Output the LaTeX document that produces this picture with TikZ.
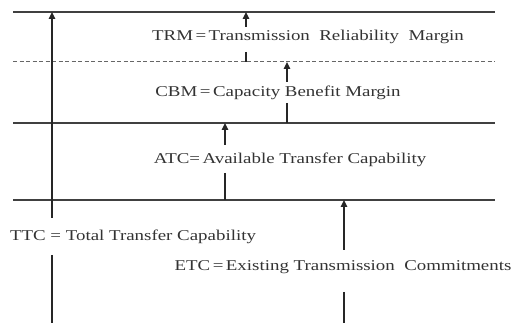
\documentclass[tikz,border=0pt]{standalone}
\usepackage{fontspec}
\setmainfont{Liberation Serif}
\newfontfamily\widefont[FakeStretch=1.26]{Liberation Serif}
\usetikzlibrary{arrows.meta}
\begin{document}
\begin{tikzpicture}[x=1pt,y=-1pt,
  level/.style={draw=black!75,line width=1.3pt},
  dashlevel/.style={draw=black!60,line width=1pt,dash pattern=on 4pt off 2.5pt},
  arr/.style={draw=black!85,line width=1.3pt,-{Triangle[length=7pt,width=6.5pt]}},
  seg/.style={draw=black!85,line width=1.3pt},
  lab/.style={font=\widefont\fontsize{15}{18}\selectfont,text=black!80,inner sep=0pt}]
\useasboundingbox (0,0) rectangle (512,323);
% levels
\coordinate (l1a) at (13,12);  \coordinate (l1b) at (495,12);
\coordinate (l2a) at (13,62);  \coordinate (l2b) at (495,62);
\coordinate (l3a) at (13,123); \coordinate (l3b) at (495,123);
\coordinate (l4a) at (13,200); \coordinate (l4b) at (495,200);
\draw[level] (l1a) -- (l1b);
\draw[dashlevel] (l2a) -- (l2b);
\draw[level] (l3a) -- (l3b);
\draw[level] (l4a) -- (l4b);
% labels
\node[lab] (trm) at (308,37) {TRM\,=\,Transmission\ \ Reliability\ \ Margin};
\node[lab] (cbm) at (278,93) {CBM\,=\,Capacity Benefit Margin};
\node[lab] (atc) at (290,160) {ATC=\,Available Transfer Capability};
\node[lab] (ttc) at (133,237) {TTC = Total Transfer Capability};
\node[lab] (etc) at (343,267) {ETC\,=\,Existing Transmission\ \ Commitments};
% TTC
\coordinate (ttcT) at (52,12); \coordinate (ttcM1) at (52,218);
\coordinate (ttcM2) at (52,255); \coordinate (ttcB) at (52,323);
\draw[arr] (ttcM1) -- (ttcT);
\draw[seg] (ttcM2) -- (ttcB);
% TRM
\coordinate (trmT) at (246,12); \coordinate (trmM1) at (246,27);
\coordinate (trmM2) at (246,52); \coordinate (trmB) at (246,62);
\draw[arr] (trmM1) -- (trmT);
\draw[seg] (trmM2) -- (trmB);
% CBM
\coordinate (cbmT) at (287,62); \coordinate (cbmM1) at (287,82);
\coordinate (cbmM2) at (287,103); \coordinate (cbmB) at (287,123);
\draw[arr] (cbmM1) -- (cbmT);
\draw[seg] (cbmM2) -- (cbmB);
% ATC
\coordinate (atcT) at (225,123); \coordinate (atcM1) at (225,145);
\coordinate (atcM2) at (225,173); \coordinate (atcB) at (225,200);
\draw[arr] (atcM1) -- (atcT);
\draw[seg] (atcM2) -- (atcB);
% ETC
\coordinate (etcT) at (344,200); \coordinate (etcM1) at (344,250);
\coordinate (etcM2) at (344,292); \coordinate (etcB) at (344,323);
\draw[arr] (etcM1) -- (etcT);
\draw[seg] (etcM2) -- (etcB);
\end{tikzpicture}
\end{document}
